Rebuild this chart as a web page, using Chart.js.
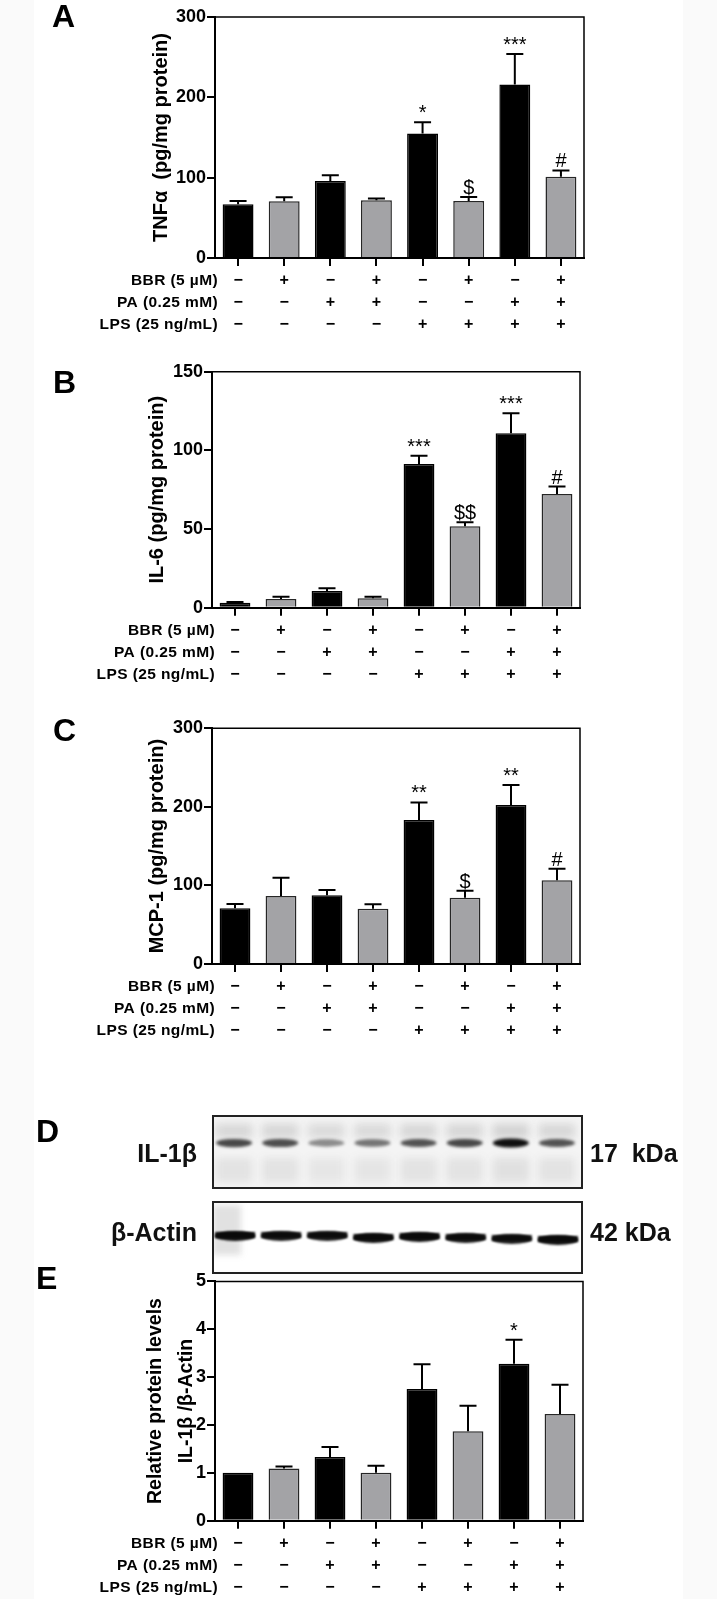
<!DOCTYPE html>
<html>
<head>
<meta charset="utf-8">
<style>
  body { margin: 0; background: #fafafa; width: 717px; height: 1599px; position: relative; overflow: hidden; }
  #sheet { position: absolute; left: 34px; top: 0; width: 649px; height: 1599px; background: #fff; }
  canvas { position: absolute; left: 0; }
</style>
</head>
<body>
<div id="sheet"></div>
<canvas id="chartA" width="717" height="340" style="top:0px"></canvas>
<canvas id="chartB" width="717" height="345" style="top:345px"></canvas>
<canvas id="chartC" width="717" height="345" style="top:700px"></canvas>
<canvas id="blot" width="717" height="190" style="top:1090px"></canvas>
<canvas id="chartE" width="717" height="333" style="top:1266px"></canvas>
<script src="https://cdn.jsdelivr.net/npm/chart.js"></script>
<script>
  const FONT = '"Liberation Sans", Arial, sans-serif';

  // treatment groups
  const groups = ['1', '2', '3', '4', '5', '6', '7', '8'];
  const bbrRow = ['−', '+', '−', '+', '−', '+', '−', '+'];
  const paRow  = ['−', '−', '+', '+', '−', '−', '+', '+'];
  const lpsRow = ['−', '−', '−', '−', '+', '+', '+', '+'];
  const rowNames = ['BBR (5 µM)', 'PA (0.25 mM)', 'LPS (25 ng/mL)'];

  // A: TNFa
  const tnfMean = [67, 70.5, 96, 72, 155, 71, 216, 101];
  const tnfErr = [4, 5, 7, 2, 14, 5, 38, 8];
  const tnfMarks = ['', '', '', '', '*', '$', '***', '#'];
  // B: IL-6
  const il6Mean = [3.2, 5.5, 10.6, 6, 91.3, 51.7, 110.9, 72.3];
  const il6Err = [0.5, 1.5, 1.7, 1, 5.3, 2.6, 12.7, 4.7];
  const il6Marks = ['', '', '', '', '***', '$$', '***', '#'];
  // C: MCP-1
  const mcpMean = [71, 86.5, 87.4, 70.4, 183.2, 84.4, 202.3, 106.5];
  const mcpErr = [5.5, 23.3, 6.8, 5.6, 22.5, 8.9, 25.5, 14.8];
  const mcpMarks = ['', '', '', '', '**', '$', '**', '#'];
  // E: IL-1b / b-actin
  const il1bMean = [1.0, 1.09, 1.33, 1.0, 2.75, 1.87, 3.28, 2.23];
  const il1bErr = [0, 0.04, 0.21, 0.15, 0.52, 0.53, 0.5, 0.61];
  const il1bMarks = ['', '', '', '', '', '', '*', ''];

  // D: blot band intensities per lane
  const il1bBand = [0.75, 0.72, 0.45, 0.55, 0.7, 0.75, 1.0, 0.7];
  const actinBand = [0.95, 0.9, 0.9, 0.95, 0.95, 0.92, 0.9, 0.95];
  const actinDrop = [0, 0, 0, 2, 1, 2, 3, 4];

  const barColors = groups.map((g, i) => i % 2 ? '#a3a3a6' : '#000');
  const barBorders = groups.map((g, i) => i % 2 ? '#262626' : '#000');

  function makeDeco(p) {
    return {
      id: 'deco' + p.letter,
      afterDatasetsDraw(chart) {
        const { ctx, scales: { y } } = chart;
        const meta = chart.getDatasetMeta(0);
        ctx.save();
        ctx.strokeStyle = '#000';
        ctx.lineWidth = 2;
        ctx.fillStyle = '#000';
        ctx.font = '20px ' + FONT;
        ctx.textAlign = 'center';
        ctx.textBaseline = 'alphabetic';
        meta.data.forEach((bar, i) => {
          let top = bar.y;
          if (p.err[i] > 0) {
            top = y.getPixelForValue(p.mean[i] + p.err[i]);
            ctx.beginPath();
            ctx.moveTo(bar.x, bar.y);
            ctx.lineTo(bar.x, top);
            ctx.moveTo(bar.x - 8.5, top);
            ctx.lineTo(bar.x + 8.5, top);
            ctx.stroke();
          }
          if (p.marks[i]) ctx.fillText(p.marks[i], bar.x, top - 3);
        });
        ctx.restore();
      },
      afterDraw(chart) {
        const { ctx, chartArea: a, scales: { x } } = chart;
        ctx.save();
        // top and right frame
        ctx.strokeStyle = '#000';
        ctx.lineWidth = 1.5;
        ctx.beginPath();
        ctx.moveTo(a.left, a.top);
        ctx.lineTo(a.right, a.top);
        ctx.lineTo(a.right, a.bottom);
        ctx.stroke();
        ctx.fillStyle = '#000';
        // treatment table
        const rows = [bbrRow, paRow, lpsRow];
        const offs = [23, 45, 67];
        ctx.textBaseline = 'middle';
        rows.forEach((row, r) => {
          const yy = a.bottom + offs[r];
          ctx.font = 'bold 15.5px ' + FONT;
          ctx.letterSpacing = '0.4px';
          ctx.textAlign = 'right';
          ctx.fillText(rowNames[r], a.left + 3, yy);
          ctx.letterSpacing = '0px';
          ctx.textAlign = 'center';
          ctx.font = 'bold 16px ' + FONT;
          row.forEach((s, i) => ctx.fillText(s, x.getPixelForValue(i), yy));
        });
        // y title
        ctx.font = 'bold ' + p.titleSize + 'px ' + FONT;
        p.title.forEach((t, k) => {
          ctx.save();
          ctx.translate(p.titleX[k], (a.top + a.bottom) / 2);
          ctx.rotate(-Math.PI / 2);
          ctx.textAlign = 'center';
          ctx.textBaseline = 'middle';
          ctx.fillText(t, 0, 0);
          ctx.restore();
        });
        // panel letter
        ctx.font = 'bold 32px ' + FONT;
        ctx.textAlign = 'left';
        ctx.textBaseline = 'alphabetic';
        ctx.fillText(p.letter, p.letterX, p.letterY);
        ctx.restore();
      }
    };
  }

  function makeChart(p) {
    const cv = document.getElementById(p.id);
    const top = parseFloat(cv.style.top);
    const H = cv.height;
    return new Chart(cv, {
      type: 'bar',
      data: {
        labels: groups,
        datasets: [{
          data: p.mean,
          backgroundColor: barColors,
          borderColor: barBorders,
          borderWidth: 1.5,
          barPercentage: 0.67,
          categoryPercentage: 1
        }]
      },
      options: {
        responsive: false,
        animation: false,
        devicePixelRatio: 1,
        layout: { padding: { left: 0, right: 717 - p.area.right, top: p.area.top - top, bottom: 0 } },
        plugins: { legend: { display: false }, tooltip: { enabled: false } },
        scales: {
          x: {
            offset: true,
            grid: { display: true, drawOnChartArea: false, offset: false, drawTicks: true, tickLength: 8, color: '#000', lineWidth: 2 },
            border: { display: true, color: '#000', width: 2 },
            ticks: { display: false },
            afterFit: s => { s.height = top + H - p.area.bottom; }
          },
          y: {
            min: 0,
            max: p.max,
            grid: { display: true, drawOnChartArea: false, drawTicks: true, tickLength: 8, color: '#000', lineWidth: 2 },
            border: { display: true, color: '#000', width: 2 },
            ticks: { stepSize: p.step, color: '#000', padding: 1, font: { family: FONT, size: 18, weight: 'bold' } },
            afterFit: s => { s.width = p.area.left; }
          }
        }
      },
      plugins: [makeDeco({ ...p, letterY: p.letterY - top })]
    });
  }

  makeChart({ id: 'chartA', letter: 'A', letterX: 52, letterY: 27, area: { left: 215, right: 584, top: 17, bottom: 258 },
    max: 300, step: 100, mean: tnfMean, err: tnfErr, marks: tnfMarks,
    title: ['TNFα  (pg/mg protein)'], titleX: [161], titleSize: 20 });
  makeChart({ id: 'chartB', letter: 'B', letterX: 53, letterY: 393, area: { left: 212, right: 580, top: 371.7, bottom: 607.7 },
    max: 150, step: 50, mean: il6Mean, err: il6Err, marks: il6Marks,
    title: ['IL-6 (pg/mg protein)'], titleX: [157], titleSize: 20 });
  makeChart({ id: 'chartC', letter: 'C', letterX: 53, letterY: 741, area: { left: 212, right: 580, top: 728.3, bottom: 964 },
    max: 300, step: 100, mean: mcpMean, err: mcpErr, marks: mcpMarks,
    title: ['MCP-1 (pg/mg protein)'], titleX: [157], titleSize: 20 });
  makeChart({ id: 'chartE', letter: 'E', letterX: 36, letterY: 1289, area: { left: 215, right: 583, top: 1281.4, bottom: 1520.7 },
    max: 5, step: 1, mean: il1bMean, err: il1bErr, marks: il1bMarks,
    title: ['Relative protein levels', 'IL-1β /β-Actin'], titleX: [156, 187], titleSize: 19.5 });

  // D: western blot
  (function drawBlot() {
    const cv = document.getElementById('blot');
    const ctx = cv.getContext('2d');
    const oy = 1090;
    const L = 213, R = 582;
    const lw = (R - L) / groups.length;
    const box1 = [1116 - oy, 1188 - oy], box2 = [1202 - oy, 1273 - oy];

    ctx.fillStyle = '#f4f4f4';
    ctx.fillRect(L, box1[0], R - L, box1[1] - box1[0]);
    ctx.fillStyle = '#fff';
    ctx.fillRect(L, box2[0], R - L, box2[1] - box2[0]);

    ctx.save();
    ctx.beginPath();
    ctx.rect(L, box1[0], R - L, box1[1] - box1[0]);
    ctx.clip();
    il1bBand.forEach((v, i) => {
      const cx = L + lw * (i + 0.5) - 2;
      ctx.filter = 'blur(4px)';
      ctx.fillStyle = 'rgba(60,60,60,' + (0.1 + v * 0.08) + ')';
      ctx.fillRect(cx - 18, 1124 - oy, 36, 14);
      ctx.fillStyle = 'rgba(60,60,60,' + (0.04 + v * 0.07) + ')';
      ctx.fillRect(cx - 18, 1158 - oy, 36, 24);
      ctx.filter = 'blur(1.5px)';
      ctx.fillStyle = 'rgba(15,15,15,' + v + ')';
      ctx.beginPath();
      ctx.ellipse(cx, 1143 - oy, 18, 3 + v * 1.5, 0, 0, Math.PI * 2);
      ctx.fill();
    });
    ctx.restore();

    ctx.save();
    ctx.beginPath();
    ctx.rect(L, box2[0], R - L, box2[1] - box2[0]);
    ctx.clip();
    ctx.filter = 'blur(3px)';
    ctx.fillStyle = 'rgba(120,120,120,0.22)';
    ctx.fillRect(L, 1205 - oy, 28, 50);
    actinBand.forEach((v, i) => {
      const cx = L + lw * (i + 0.5) - 1;
      const cy = 1236 - oy + actinDrop[i];
      ctx.filter = 'blur(1.2px)';
      ctx.fillStyle = 'rgba(10,10,10,' + v + ')';
      ctx.beginPath();
      ctx.ellipse(cx, cy, 20, 5, 0, 0, Math.PI * 2);
      ctx.fill();
      ctx.fillRect(cx - 20, cy - 4, 40, 6);
    });
    ctx.restore();

    ctx.filter = 'none';
    ctx.strokeStyle = '#222';
    ctx.lineWidth = 2;
    ctx.strokeRect(L, box1[0], R - L, box1[1] - box1[0]);
    ctx.strokeRect(L, box2[0], R - L, box2[1] - box2[0]);

    ctx.fillStyle = '#111';
    ctx.font = 'bold 25px ' + FONT;
    ctx.textBaseline = 'middle';
    ctx.textAlign = 'right';
    ctx.fillText('IL-1β', 197, 1155 - oy);
    ctx.fillText('β-Actin', 197, 1234 - oy);
    ctx.textAlign = 'left';
    ctx.fillText('17  kDa', 590, 1155 - oy);
    ctx.fillText('42 kDa', 590, 1234 - oy);
    ctx.fillStyle = '#000';
    ctx.font = 'bold 32px ' + FONT;
    ctx.textBaseline = 'alphabetic';
    ctx.fillText('D', 36, 1142 - oy);
  })();
</script>
</body>
</html>
